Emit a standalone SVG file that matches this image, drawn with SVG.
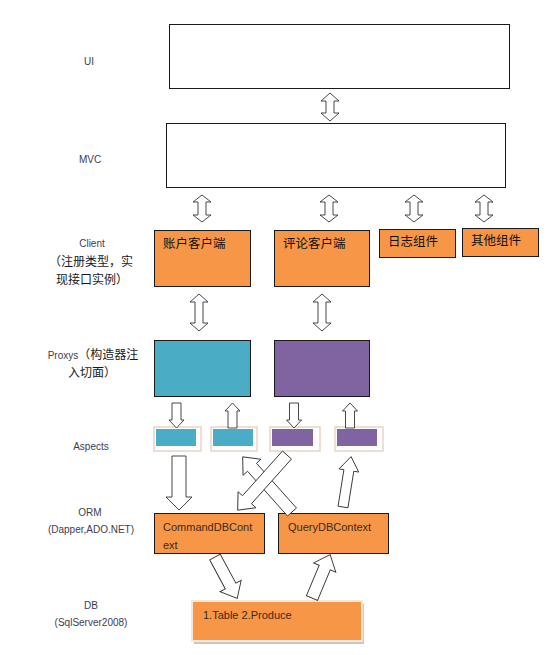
<svg xmlns="http://www.w3.org/2000/svg" width="550" height="655" viewBox="0 0 550 655">
<style>
.lbl{font-family:"Liberation Sans","Noto Sans CJK SC",sans-serif;font-size:10px;fill:#3c3c50;text-anchor:middle}
.cjk{font-family:"Liberation Sans","Noto Sans CJK SC",sans-serif;font-size:12px;fill:#1a1a1a;text-anchor:middle}
.box{stroke:#1a1a1a;stroke-width:1}
.white{fill:#fff}
.org{fill:#F79646}
.teal{fill:#4BACC6}
.purp{fill:#8064A2}
.bt{font-family:"Liberation Sans","Noto Sans CJK SC",sans-serif;font-size:12.5px;fill:#111}
.et{font-family:"Liberation Sans",sans-serif;font-size:11px;fill:#3a2a1a}
.arr{fill:#fff;stroke:#333;stroke-width:0.9;stroke-linejoin:miter}
.frame{fill:#fff;stroke:#e6d6c8;stroke-width:1.5}
</style>
<g id="labels">
<text class="lbl" x="89" y="65">UI</text>
<text class="lbl" x="90" y="163">MVC</text>
<text class="lbl" x="92" y="247">Client</text>
<text class="cjk" x="91" y="266">（注册类型，实</text>
<text class="cjk" x="92" y="284">现接口实例）</text>
<text class="cjk" x="93" y="359"><tspan style="font-size:10px;fill:#3c3c50">Proxys</tspan>（构造器注</text>
<text class="cjk" x="92" y="377">入切面）</text>
<text class="lbl" x="91" y="450">Aspects</text>
<text class="lbl" x="90" y="516">ORM</text>
<text class="lbl" x="91" y="533">(Dapper,ADO.NET)</text>
<text class="lbl" x="91" y="609">DB</text>
<text class="lbl" x="91" y="626">(SqlServer2008)</text>
</g>
<g id="ui"><rect class="box white" x="169.5" y="24.5" width="340" height="64"/></g>
<g id="mvc"><rect class="box white" x="166.5" y="123.5" width="339" height="64"/></g>
<g id="client-account"><rect class="box org" x="154.5" y="230.5" width="96" height="56"/><text class="bt" x="163" y="248">账户客户端</text></g>
<g id="client-comment"><rect class="box org" x="274.5" y="230.5" width="95" height="56"/><text class="bt" x="283" y="248">评论客户端</text></g>
<g id="log"><rect class="box org" x="379.5" y="229.5" width="76" height="28"/><text class="bt" x="388" y="246">日志组件</text></g>
<g id="other"><rect class="box org" x="462.5" y="228.5" width="76" height="28"/><text class="bt" x="471" y="245">其他组件</text></g>
<g id="proxy-account"><rect class="box teal" x="154.5" y="340.5" width="96" height="56"/></g>
<g id="proxy-comment"><rect class="box purp" x="274.5" y="340.5" width="95" height="56"/></g>
<g id="aspect1"><rect class="frame" x="154" y="427" width="47" height="24"/><rect class="teal" x="156" y="429" width="40" height="17"/></g>
<g id="aspect2"><rect class="frame" x="211" y="427" width="46" height="24"/><rect class="teal" x="213" y="429" width="40" height="17"/></g>
<g id="aspect3"><rect class="frame" x="270" y="427" width="50" height="24"/><rect class="purp" x="272" y="429" width="41" height="17"/></g>
<g id="aspect4"><rect class="frame" x="335" y="427" width="48" height="24"/><rect class="purp" x="337" y="429" width="40" height="17"/></g>
<g id="cmd"><rect class="box org" x="154.5" y="513.5" width="110" height="40"/><text class="et" x="163" y="531">CommandDBCont</text><text class="et" x="163" y="549">ext</text></g>
<g id="query"><rect class="box org" x="278.5" y="513.5" width="110" height="40"/><text class="et" x="288" y="531">QueryDBContext</text></g>
<g id="db"><rect x="194" y="604" width="170" height="40" fill="#c8c8c8"/><rect x="192" y="601" width="170" height="40" fill="#F79646" stroke="#f6e8d8" stroke-width="2"/><text class="et" x="203" y="619">1.Table 2.Produce</text></g>
<g id="connectors">
<!-- double arrows -->
<path class="arr" d="M330,93 L339,101 L334,101 L334,113 L339,113 L330,121 L321,113 L326,113 L326,101 L321,101 Z"/>
<path class="arr" d="M202,195 L211,202 L206,202 L206,215 L211,215 L202,222 L193,215 L198,215 L198,202 L193,202 Z"/>
<path class="arr" d="M329,195 L338,202 L333,202 L333,215 L338,215 L329,222 L320,215 L325,215 L325,202 L320,202 Z"/>
<path class="arr" d="M414,195 L423,202 L418,202 L418,215 L423,215 L414,222 L405,215 L410,215 L410,202 L405,202 Z"/>
<path class="arr" d="M484,195 L493,202 L488,202 L488,215 L493,215 L484,222 L475,215 L480,215 L480,202 L475,202 Z"/>
<path class="arr" d="M199,294 L208,302 L203,302 L203,323 L208,323 L199,331 L190,323 L195,323 L195,302 L190,302 Z"/>
<path class="arr" d="M322,294 L331,302 L326,302 L326,323 L331,323 L322,331 L313,323 L318,323 L318,302 L313,302 Z"/>
<!-- proxy to aspects -->
<path class="arr" d="M172,403 L181,403 L181,420 L184,420 L176.5,428 L169,420 L172,420 Z"/>
<path class="arr" d="M228,428 L237,428 L237,411 L240,411 L232.5,403 L225,411 L228,411 Z"/>
<path class="arr" d="M289.5,403 L298.5,403 L298.5,420 L301.5,420 L294,428 L286.5,420 L289.5,420 Z"/>
<path class="arr" d="M345.5,428 L354.5,428 L354.5,411 L357.5,411 L350,403 L342.5,411 L345.5,411 Z"/>
<!-- aspects to ORM -->
<path class="arr" d="M172,456 L186,456 L186,497 L192,497 L179,510 L166,497 L172,497 Z"/>
<path class="arr" transform="translate(292,512) rotate(-131.8)" d="M0,-6 L60,-6 L60,-12 L74,0 L60,12 L60,6 L0,6 Z"/>
<path class="arr" transform="translate(287,455) rotate(131.8)" d="M0,-6 L60,-6 L60,-12 L74,0 L60,12 L60,6 L0,6 Z"/>
<path class="arr" transform="translate(343,507) rotate(-80.9)" d="M0,-5 L37,-5 L37,-10 L51,0 L37,10 L37,5 L0,5 Z"/>
<!-- ORM to DB -->
<path class="arr" transform="translate(215,557) rotate(61.8)" d="M0,-6 L33,-6 L33,-12 L47,0 L33,12 L33,6 L0,6 Z"/>
<path class="arr" transform="translate(312,598) rotate(-67.3)" d="M0,-6 L33,-6 L33,-12 L47,0 L33,12 L33,6 L0,6 Z"/>
</g>
</svg>
